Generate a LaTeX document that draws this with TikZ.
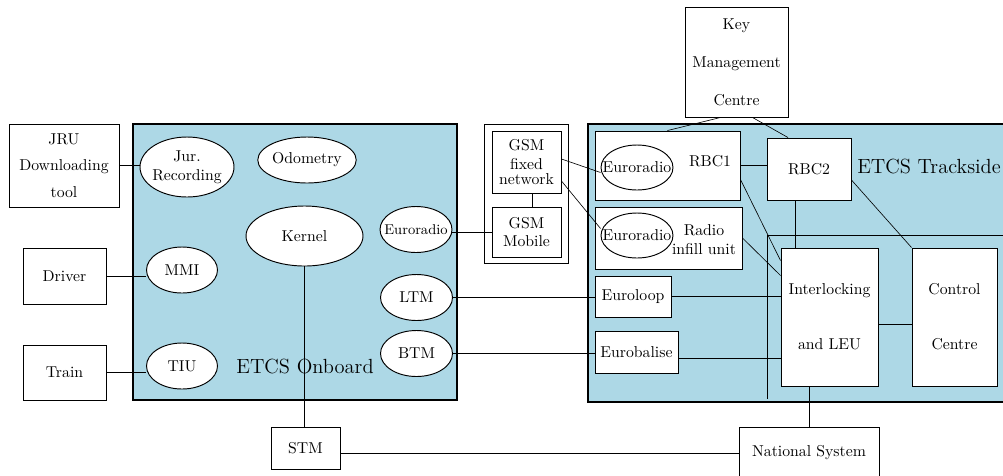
\documentclass[tikz,border=0pt]{standalone}
\usetikzlibrary{shapes.geometric}
\usetikzlibrary{calc}
\definecolor{lightblue}{RGB}{173,216,230}
\tikzstyle{area}=[draw, thick, fill=lightblue]
\tikzstyle{blk}=[draw, semithick, rectangle, fill=white, inner sep=0pt, align=center]
\tikzstyle{unit}=[draw, semithick, ellipse, fill=white, inner sep=0pt, align=center]
\tikzstyle{sz}=[minimum width=#1*0.635pt]
\tikzstyle{ht}=[minimum height=#1*0.635pt]
\newcommand{\areafont}{\fontsize{13}{15}\selectfont}

\begin{document}
\begin{tikzpicture}[x=0.635pt,y=-0.635pt]
			\useasboundingbox (0,0) rectangle (1003,475);
			%\draw [help lines, step=50] (0,0) grid (1003,475);

			% onboard side
			\draw[area] (133,124) rectangle (457,400);
			\node (onbtext) at (305,366) {\areafont ETCS Onboard};

			\node[blk, sz=110, ht=83] (jru) at (64,165.5) {JRU\\[5pt]Downloading\\[5pt]tool};
			\node[blk, sz=83, ht=56] (driver) at (64.5,276) {Driver};
			\node[blk, sz=83, ht=55] (train) at (64.5,372.5) {Train};

			\node[unit, sz=94, ht=60, inner xsep=-1.5pt] (jur) at (187,167) {Jur.\\Recording};
			\node[unit, sz=88, ht=46] (odo) at (307,160) {Odometry};
			\node[unit, sz=117, ht=60] (kernel) at (304.5,236) {Kernel};
			\node[unit, sz=71, ht=46] (mmi) at (182,270) {MMI};
			\node[unit, sz=71, ht=46] (tiu) at (182,366) {TIU};
			\node[unit, sz=72, ht=46] (eronb) at (416,229.5) {\makebox[0pt]{\small Euroradio}};
			\node[unit, sz=72, ht=46] (ltm) at (416.5,297.5) {LTM};
			\node[unit, sz=72, ht=46] (btm) at (416.5,353.5) {BTM};

			\draw (jru.east) -- (jru.east -| jur.west);
			\draw (driver.east) -- (driver.east -| mmi.west);
			\draw (train.east) -- (train.east -| tiu.west);

			% gsm
			\draw[semithick] (484,124) rectangle (568,263);
			\node[blk, sz=69, ht=62] (gsmfix) at (526.5,162) {GSM\\fixed\\[-3pt]network};
			\node[blk, sz=69, ht=50] (gsmmob) at (526.5,232) {GSM\\Mobile};
			\draw ($(gsmfix.south)+(6,0)$) -- ($(gsmmob.north)+(6,0)$);

			% trackside
			\draw[area] (588,124) rectangle (1015,402);
			\draw (767,235) -- (1015,235);
			\draw (767,235) -- (767,399);
			\node (tstext) at (929,167) {\areafont ETCS Trackside};

			\node[blk, sz=145, ht=69] (rbc1) at (667.5,165.5) {};
			\node (rbc1text) at (710,161) {RBC1};
			\node[unit, sz=72, ht=45] (er1) at (637,167.5) {\makebox[0pt]{Euroradio}};
			\node[blk, sz=147, ht=62] (rif) at (668.5,238) {};
			\node[align=center] (riftext) at (704,240) {Radio\\infill unit};
			\node[unit, sz=72, ht=45] (er2) at (637,235.5) {\makebox[0pt]{Euroradio}};
			\node[blk, sz=76, ht=41] (el) at (633,296.5) {Euroloop};
			\node[blk, sz=83, ht=42] (eb) at (636.5,352) {Eurobalise};
			\node[blk, sz=84, ht=62] (rbc2) at (809,169) {RBC2};
			\node[blk, sz=97, ht=138] (il) at (829.5,317) {Interlocking\\[23pt]and LEU};
			\node[blk, sz=85, ht=138] (cc) at (954.5,317) {Control\\[23pt]Centre};
			\node[blk, sz=103, ht=110] (kmc) at (736.5,62) {Key\\[12pt]Management\\[12pt]Centre};

			% bottom
			\node[blk, sz=69, ht=42] (stm) at (305.5,448) {STM};
			\node[blk, sz=140, ht=52] (ns) at (809,453) {National System};

			\draw (eronb.east |- gsmmob.west) -- (gsmmob.west);
			\draw (ltm.east) -- (ltm.east -| el.west);
			\draw (btm.east) -- (btm.east -| eb.west);
			\draw ($(gsmfix.east)+(0,-3)$) -- ($(er1.west)+(0,5)$);
			\draw ($(gsmfix.east)+(0,19)$) -- ($(er2.west)+(0,-7)$);

			\draw ($(kmc.south)+(-16,0)$) -- (rbc1.north);
			\draw ($(kmc.south)+(16,0)$) -- ($(rbc2.north)+(-21,0)$);
			\draw (rbc1.east) -- (rbc1.east -| rbc2.west);
			\draw ($(rbc1.east)+(0,14)$) -- ($(il.north west)+(0,13)$);
			\draw (rif.east) -- ($(il.north west)+(0,28)$);
			\draw ($(rbc2.south)+(-14,0)$) -- ($(il.north)+(-34.5,0)$);
			\draw ($(rbc2.east)+(0,11)$) -- (cc.north west);
			\draw (el.east) -- (el.east -| il.west);
			\coordinate (ebout) at ($(eb.east)+(0,6)$);
			\draw (ebout) -- (ebout -| il.west);
			\draw ($(il.east)+(0,7)$) -- ($(cc.west)+(0,7)$);

			\draw (kernel.south) -- (kernel.south |- stm.north);
			\draw (stm.east |- ns.west) -- (ns.west);
			\draw (ns.north |- il.south) -- (ns.north);

		\end{tikzpicture}
\end{document}
